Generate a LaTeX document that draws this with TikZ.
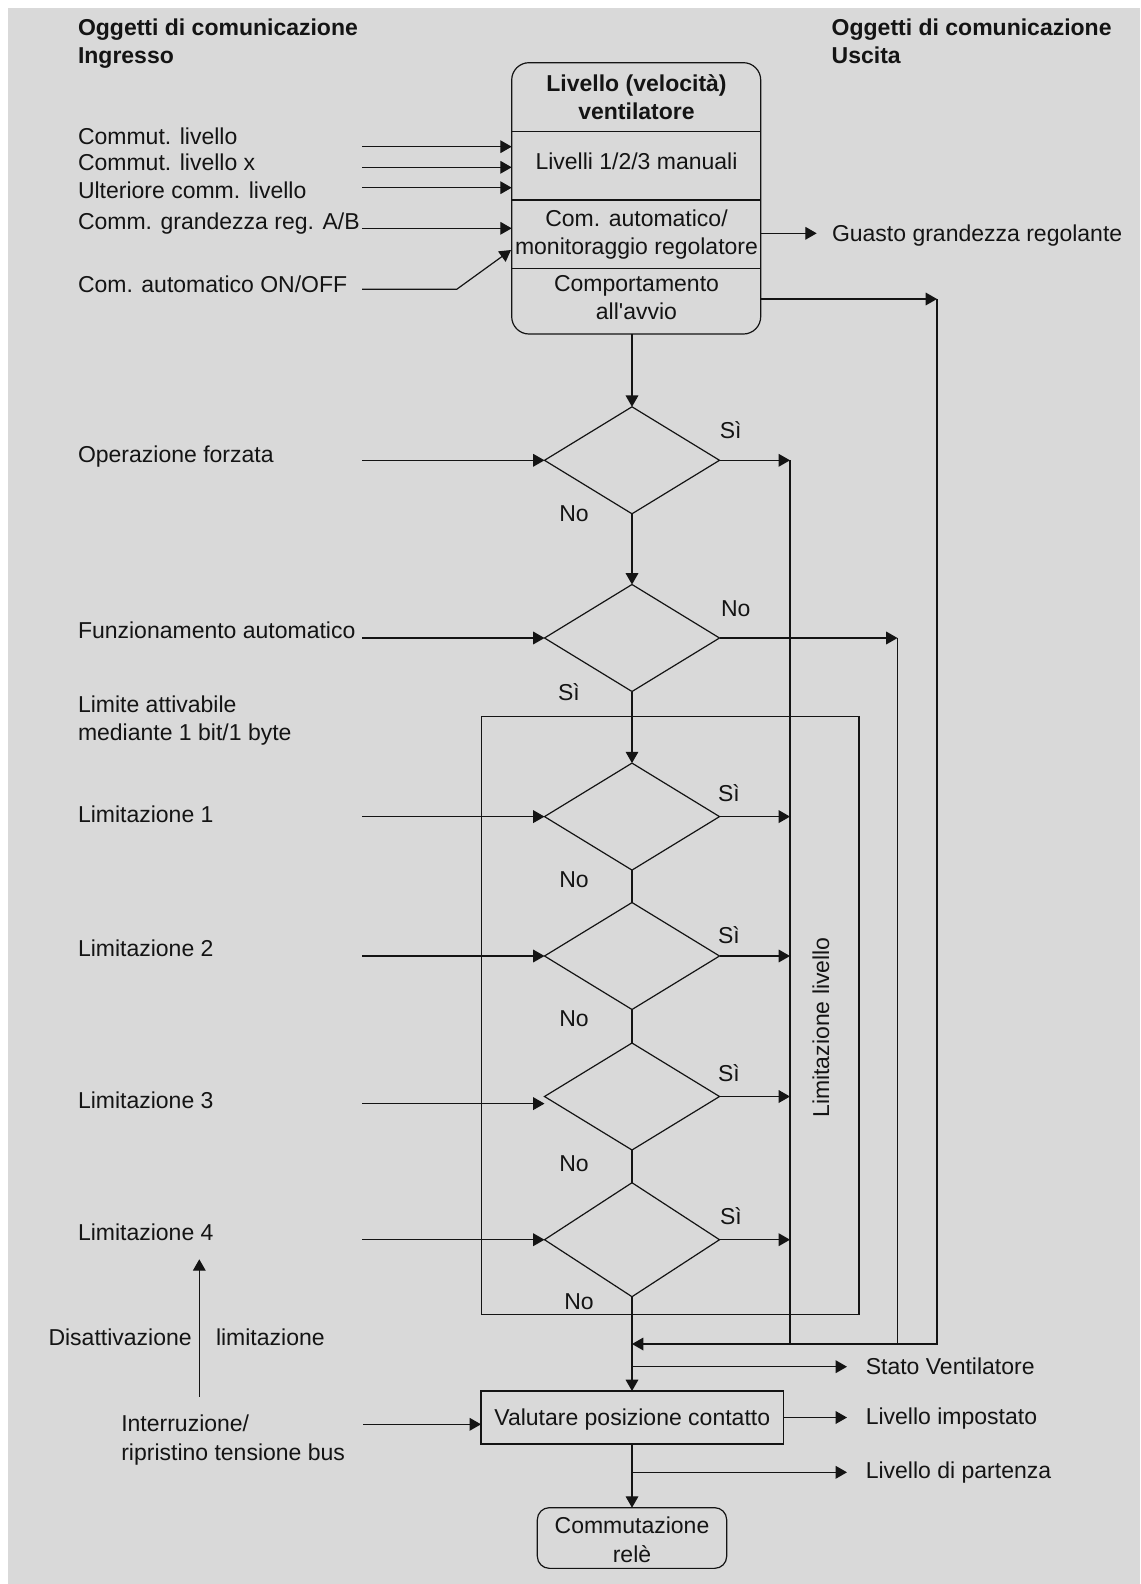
\documentclass[tikz,border=0pt]{standalone}
\usepackage{fontspec}
\setmainfont{Liberation Sans}
\usetikzlibrary{arrows.meta,shapes.geometric}
\definecolor{bg}{RGB}{217,217,217}
\definecolor{ink}{RGB}{20,20,20}
\begin{document}
\begin{tikzpicture}[x=0.75pt,y=-0.75pt,line width=0.9pt,color=ink,
  lbl/.style={anchor=west,inner sep=0pt,outer sep=0pt,text height=12.35pt,text depth=0pt,font=\fontsize{17.25}{21}\selectfont,text=ink},
  ctr/.style={lbl,anchor=center},
  bold/.style={font=\fontsize{17.25}{21}\selectfont\bfseries},
  arr/.style={-{Triangle[length=8.5pt,width=9.5pt]}},
  dia/.style={diamond,draw,inner sep=0pt,outer sep=0pt,minimum width=131.25pt,minimum height=80.25pt},
  box/.style={rectangle,draw,inner sep=0pt,outer sep=0pt},
  boxt/.style={box,font=\fontsize{17.25}{21}\selectfont,text height=12.35pt,text depth=0pt,text=ink}]
\useasboundingbox (0,0) rectangle (1140,1584);
\fill[white] (0,0) rectangle (1140,1584);
\fill[bg] (8,8) rectangle (1140,1584);

% headers
\node[lbl,bold] (hL1) at (78,27.3) {Oggetti di comunicazione};
\node[lbl,bold] (hL2) at (78,55.6) {Ingresso};
\node[lbl,bold] (hR1) at (831.7,27.3) {Oggetti di comunicazione};
\node[lbl,bold] (hR2) at (831.7,55.6) {Uscita};

% top box
\node[box,rounded corners=13pt,minimum width=186.75pt,minimum height=203.5pt] (top) at (636.2,198.35) {};
\coordinate (s1) at (0,131.7);
\coordinate (s2) at (0,200);
\coordinate (s3) at (0,268.3);
\draw (top.west |- s1) -- (top.east |- s1);
\draw (top.west |- s2) -- (top.east |- s2);
\draw (top.west |- s3) -- (top.east |- s3);
\node[ctr,bold] (t1a) at (636.5,83.3) {Livello (velocità)};
\node[ctr,bold] (t1b) at (636.5,111.7) {ventilatore};
\node[ctr] (t2) at (636.5,161.7) {Livelli 1/2/3 manuali};
\node[ctr] (t3a) at (636.5,218) {Com. automatico/};
\node[ctr] (t3b) at (636.5,246.7) {monitoraggio regolatore};
\node[ctr] (t4a) at (636.5,283) {Comportamento};
\node[ctr] (t4b) at (636.5,311.7) {all\textquotesingle avvio};

% left labels
\node[lbl] (l1) at (78,136.4) {Commut. livello};
\node[lbl] (l2) at (78,162.7) {Commut. livello x};
\node[lbl] (l3) at (78,190) {Ulteriore comm. livello};
\node[lbl] (l4) at (78,221.3) {Comm. grandezza reg. A/B};
\node[lbl] (l5) at (78,284) {Com. automatico ON/OFF};
\node[lbl] (l6) at (78,453.8) {Operazione forzata};
\node[lbl] (l7) at (78,630.6) {Funzionamento automatico};
\node[lbl] (l8a) at (78,704.4) {Limite attivabile};
\node[lbl] (l8b) at (78,732.7) {mediante 1 bit/1 byte};
\node[lbl] (l9) at (78,814.5) {Limitazione 1};
\node[lbl] (l10) at (78,948) {Limitazione 2};
\node[lbl] (l11) at (78,1100.5) {Limitazione 3};
\node[lbl] (l12) at (78,1232) {Limitazione 4};
\node[lbl] (l13a) at (48.5,1337) {Disattivazione};
\node[lbl] (l13b) at (216,1337) {limitazione};
\node[lbl] (l14a) at (121.3,1423) {Interruzione/};
\node[lbl] (l14b) at (121.3,1452) {ripristino tensione bus};

% right labels
\node[lbl] (r1) at (832,233.3) {Guasto grandezza regolante};
\node[lbl] (r2) at (865.8,1366.7) {Stato Ventilatore};
\node[lbl] (r3) at (865.8,1416.7) {Livello impostato};
\node[lbl] (r4) at (865.8,1470) {Livello di partenza};

% frame
\node[box,minimum width=282.98pt,minimum height=448.2pt] (frame) at (670.35,1015.5) {};
\node[ctr,rotate=90] (limliv) at (821,1027.5) {Limitazione livello};

% diamonds
\node[dia] (d1) at (632,460.3) {};
\node[dia] (d2) at (632,638) {};
\node[dia] (d3) at (632,816.6) {};
\node[dia] (d4) at (632,956) {};
\node[dia] (d5) at (632,1096.5) {};
\node[dia,minimum height=85.5pt] (d6) at (632,1239.7) {};

% yes/no
\node[ctr] (y1) at (730.7,430.5) {Sì};
\node[ctr] (n1) at (574,513.4) {No};
\node[ctr] (n2) at (735.7,608.4) {No};
\node[ctr] (y2) at (569,692) {Sì};
\node[ctr] (y3) at (729,793) {Sì};
\node[ctr] (n3) at (574,879) {No};
\node[ctr] (y4) at (729,934.8) {Sì};
\node[ctr] (n4) at (574,1018.7) {No};
\node[ctr] (y5) at (729,1073) {Sì};
\node[ctr] (n5) at (574,1163) {No};
\node[ctr] (y6) at (731,1216) {Sì};
\node[ctr] (n6) at (579,1301.6) {No};

% bottom boxes
\node[boxt,minimum width=226.9pt,minimum height=39.75pt] (val) at (632.25,1417.5) {Valutare posizione contatto};
\node[box,rounded corners=9pt,minimum width=142pt,minimum height=45.5pt] (rel) at (632,1538) {};
\node[ctr] (relt1) at (632,1525.7) {Commutazione};
\node[ctr] (relt2) at (632,1554) {relè};

% coordinates
\coordinate (mx) at (632,0);
\coordinate (bot) at (0,1344);
\coordinate (cx) at (790,0);
\coordinate (nx) at (897.5,0);
\coordinate (st) at (937,299);
\coordinate (o1) at (816.7,233.3);
\coordinate (i1) at (362,146.7);
\coordinate (i2) at (362,167.3);
\coordinate (i3) at (362,187.7);
\coordinate (i4) at (362,228.3);
\coordinate (i5) at (362,289.3);
\coordinate (k5) at (456.7,289.3);
\coordinate (e5) at (511,250);
\coordinate (f1) at (362,460.3);
\coordinate (f2) at (362,638);
\coordinate (f3) at (362,816.6);
\coordinate (f4) at (362,956);
\coordinate (f5) at (362,1103.6);
\coordinate (f6) at (362,1239.7);
\coordinate (sv) at (847,1366.7);
\coordinate (lp) at (847,1472.3);
\coordinate (ib) at (363,1424.3);
\coordinate (da) at (199.3,1396.7);
\coordinate (db) at (199.3,1259.3);

% inputs to top box
\draw[arr] (i1) -- (i1 -| top.west);
\draw[arr] (i2) -- (i2 -| top.west);
\draw[arr] (i3) -- (i3 -| top.west);
\draw[arr] (i4) -- (i4 -| top.west);
\draw[arr] (i5) -- (k5) -- (e5);

% outputs of top box
\draw[arr] (top.east |- o1) -- (o1);
\draw[arr] (top.east |- st) -- (st);
\draw[arr] (st) -- (st |- bot) -- (mx |- bot);

% main flow
\draw[arr] (top.south -| mx) -- (d1.north);
\draw[arr] (d1.south) -- (d2.north);
\draw[arr] (d2.south) -- (d3.north);
\draw (d3.south) -- (d4.north);
\draw (d4.south) -- (d5.north);
\draw (d5.south) -- (d6.north);
\draw[arr] (d6.south) -- (d6.south |- val.north);
\draw[arr] (mx |- val.south) -- (rel.north);

% diamond inputs
\draw[arr] (f1) -- (d1.west);
\draw[arr] (f2) -- (d2.west);
\draw[arr] (f3) -- (d3.west);
\draw[arr] (f4) -- (d4.west);
\draw[arr] (f5) -- (f5 -| d5.west);
\draw[arr] (f6) -- (d6.west);

% diamond outputs
\draw[arr] (d1.east) -- (d1.east -| cx);
\draw (d1.east -| cx) -- (cx |- bot);
\draw[arr] (d2.east) -- (d2.east -| nx);
\draw (d2.east -| nx) -- (nx |- bot);
\draw[arr] (d3.east) -- (d3.east -| cx);
\draw[arr] (d4.east) -- (d4.east -| cx);
\draw[arr] (d5.east) -- (d5.east -| cx);
\draw[arr] (d6.east) -- (d6.east -| cx);

% outputs at bottom
\draw[arr] (mx |- sv) -- (sv);
\draw[arr] (val.east) -- (val.east -| sv);
\draw[arr] (mx |- lp) -- (lp);
\draw[arr] (ib) -- (ib -| val.west);
\draw[arr] (da) -- (db);
\end{tikzpicture}
\end{document}
